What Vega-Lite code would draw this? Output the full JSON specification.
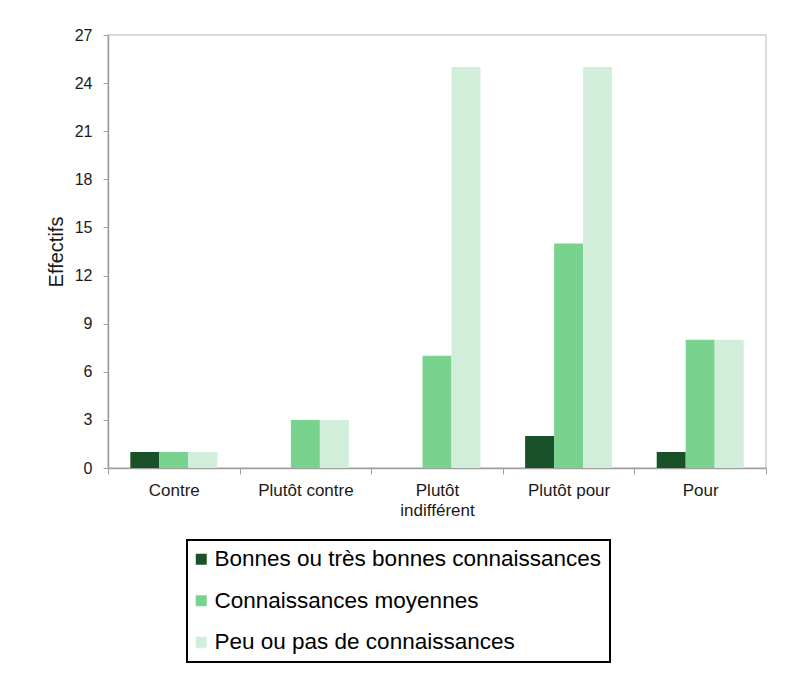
{
  "$schema": "https://vega.github.io/schema/vega-lite/v6.json",
  "width": 658,
  "height": 433,
  "autosize": "none",
  "padding": {"left": 108, "top": 35, "right": 24, "bottom": 206},
  "background": "white",
  "data": {
    "values": [
      {"opinion": "Contre", "niveau": "Bonnes ou très bonnes connaissances", "effectif": 1},
      {"opinion": "Contre", "niveau": "Connaissances moyennes", "effectif": 1},
      {"opinion": "Contre", "niveau": "Peu ou pas de connaissances", "effectif": 1},
      {"opinion": "Plutôt contre", "niveau": "Bonnes ou très bonnes connaissances", "effectif": 0},
      {"opinion": "Plutôt contre", "niveau": "Connaissances moyennes", "effectif": 3},
      {"opinion": "Plutôt contre", "niveau": "Peu ou pas de connaissances", "effectif": 3},
      {"opinion": "Plutôt indifférent", "niveau": "Bonnes ou très bonnes connaissances", "effectif": 0},
      {"opinion": "Plutôt indifférent", "niveau": "Connaissances moyennes", "effectif": 7},
      {"opinion": "Plutôt indifférent", "niveau": "Peu ou pas de connaissances", "effectif": 25},
      {"opinion": "Plutôt pour", "niveau": "Bonnes ou très bonnes connaissances", "effectif": 2},
      {"opinion": "Plutôt pour", "niveau": "Connaissances moyennes", "effectif": 14},
      {"opinion": "Plutôt pour", "niveau": "Peu ou pas de connaissances", "effectif": 25},
      {"opinion": "Pour", "niveau": "Bonnes ou très bonnes connaissances", "effectif": 1},
      {"opinion": "Pour", "niveau": "Connaissances moyennes", "effectif": 8},
      {"opinion": "Pour", "niveau": "Peu ou pas de connaissances", "effectif": 8}
    ]
  },
  "mark": {"type": "bar"},
  "encoding": {
    "x": {
      "field": "opinion",
      "type": "nominal",
      "sort": ["Contre", "Plutôt contre", "Plutôt indifférent", "Plutôt pour", "Pour"],
      "scale": {"paddingInner": 0, "paddingOuter": 0},
      "axis": {
        "title": null,
        "labelAngle": 0,
        "labelFont": "Liberation Sans",
        "labelFontSize": 17,
        "labelColor": "#1a1a1a",
        "labelPadding": 8,
        "labelLineHeight": 20,
        "labelExpr": "datum.label == 'Plutôt indifférent' ? ['Plutôt', 'indifférent'] : datum.label",
        "tickBand": "extent",
        "tickSize": 6,
        "tickColor": "#A0A0A0",
        "domainColor": "#A0A0A0",
        "domainWidth": 1.5,
        "grid": false
      }
    },
    "xOffset": {
      "field": "niveau",
      "type": "nominal",
      "sort": ["Bonnes ou très bonnes connaissances", "Connaissances moyennes", "Peu ou pas de connaissances"],
      "scale": {"paddingInner": 0, "paddingOuter": 0.77}
    },
    "y": {
      "field": "effectif",
      "type": "quantitative",
      "scale": {"domain": [0, 27], "nice": false},
      "axis": {
        "title": "Effectifs",
        "titleFont": "Liberation Sans",
        "titleFontSize": 20,
        "titleFontWeight": "normal",
        "titleColor": "#1a1a1a",
        "titlePadding": 8,
        "values": [0, 3, 6, 9, 12, 15, 18, 21, 24, 27],
        "labelFont": "Liberation Sans",
        "labelFontSize": 16,
        "labelColor": "#1a1a1a",
        "labelPadding": 11,
        "tickSize": 5,
        "tickColor": "#A0A0A0",
        "domainColor": "#A0A0A0",
        "domainWidth": 1.5,
        "grid": false
      }
    },
    "color": {
      "field": "niveau",
      "type": "nominal",
      "sort": ["Bonnes ou très bonnes connaissances", "Connaissances moyennes", "Peu ou pas de connaissances"],
      "scale": {
        "domain": ["Bonnes ou très bonnes connaissances", "Connaissances moyennes", "Peu ou pas de connaissances"],
        "range": ["#1B5129", "#79D38F", "#D1EEDB"]
      },
      "legend": {
        "title": null,
        "orient": "none",
        "legendX": 79,
        "legendY": 505,
        "direction": "vertical",
        "symbolType": "square",
        "symbolSize": 121,
        "symbolStrokeWidth": 0,
        "symbolOffset": -5,
        "labelFont": "Liberation Sans",
        "labelFontSize": 22.5,
        "labelColor": "#000000",
        "labelOffset": 2,
        "labelLimit": 0,
        "rowPadding": 18.5,
        "padding": 8,
        "strokeColor": "#000000",
        "fillColor": "white",
        "encode": {"legend": {"update": {"strokeWidth": {"value": 2}}}}
      }
    }
  },
  "config": {
    "view": {"stroke": "#D0D0D0", "strokeWidth": 1.5}
  }
}
